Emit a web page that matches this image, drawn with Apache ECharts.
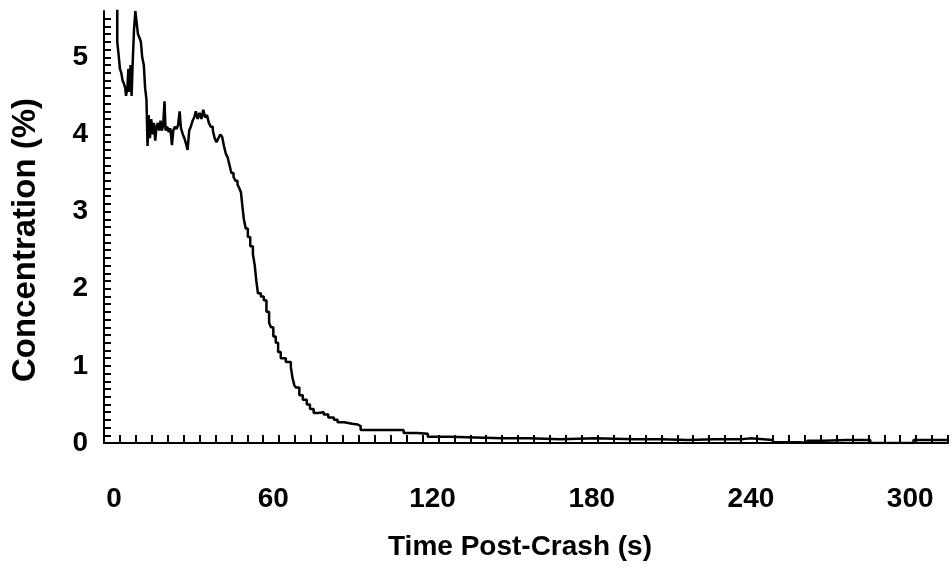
<!DOCTYPE html>
<html>
<head>
<meta charset="utf-8">
<script src="https://cdn.jsdelivr.net/npm/echarts@6/dist/echarts.min.js"></script>
<style>
html,body{margin:0;padding:0;background:#fff;}
#chart{width:952px;height:568px;}
</style>
</head>
<body>
<div id="chart"></div>
<script>
// Data (time in s, concentration in %)
const times = [
  0, 1, 2, 3, 4, 5, 5.6, 6, 6.5, 7, 7.5, 8, 8.3, 8.8, 9.2, 9.6, 10, 10.4, 10.8, 11.3,
  11.8, 12.3, 12.8, 13.4, 13.9, 14.4, 15, 15.5, 16, 16.4, 16.8, 17.3, 17.8, 18.3, 18.8, 19.3,
  19.8, 20.3, 20.8, 21.3, 21.8, 22.3, 22.8, 23.2, 23.8, 24.4, 25, 25.6, 26.1, 26.7, 27.3, 27.9,
  28.5, 29, 29.7, 30.3, 30.9, 31.5, 32.1, 32.7, 33.4, 34, 34.6, 35.3, 36, 36.7, 37.4, 38.1,
  38.8, 39.5, 40.2, 41, 41.7, 42.4, 43.1, 43.8, 44.5, 45.2, 45.9, 46.6, 47.3, 48, 48.8, 49.5,
  50.3, 51, 51.6, 52.2, 52.7, 53.4, 54.2, 55.1, 56.1, 56.8, 57.4, 58, 59.1, 60.2, 61.2, 62.2,
  62.9, 63.8, 64.7, 65.6, 66.6, 68.5, 70.4, 71, 71.7, 72.3, 73.6, 74.9, 76.4, 77.6, 79, 80.5,
  82.8, 84.5, 86.6, 88, 90.5, 93.5, 95.6, 96.7, 105, 112.9, 118, 122, 130, 140, 150, 160,
  172, 185, 200, 210, 220, 230, 240, 243.5, 252, 262, 265, 271, 280, 288.7, 303.7, 305, 306.4, 317.6
];
const concentration = [
  5.9, 5.9, 5.9, 5.9, 5.9, 5.2, 5.0, 4.85, 4.8, 4.7, 4.66, 4.6, 4.5, 4.6, 4.85, 4.55, 4.9, 4.5, 4.92, 5.35,
  5.6, 5.45, 5.3, 5.25, 5.2, 5.0, 4.9, 4.6, 4.45, 3.85, 4.25, 3.95, 4.2, 4.0, 4.15, 3.92,
  4.1, 4.15, 4.05, 4.18, 4.05, 4.12, 4.43, 4.05, 4.1, 4.03, 4.08, 3.86, 4.05, 4.1, 4.07, 4.12,
  4.3, 4.08, 4.0, 3.95, 3.88, 3.8, 4.05, 4.1, 4.18, 4.22, 4.3, 4.2, 4.28, 4.2, 4.32, 4.22,
  4.25, 4.15, 4.1, 4.05, 3.95, 3.9, 3.95, 4.0, 3.97, 3.85, 3.75, 3.7, 3.6, 3.5, 3.45, 3.4,
  3.35, 3.3, 3.25, 3.05, 2.9, 2.78, 2.67, 2.55, 2.45, 2.3, 2.1, 1.94, 1.9, 1.85, 1.7, 1.56,
  1.5, 1.38, 1.3, 1.18, 1.1, 1.05, 0.98, 0.85, 0.75, 0.72, 0.62, 0.56, 0.5, 0.44, 0.39, 0.4,
  0.37, 0.33, 0.3, 0.27, 0.25, 0.24, 0.22, 0.17, 0.17, 0.13, 0.12, 0.08, 0.07, 0.06, 0.06, 0.05,
  0.06, 0.05, 0.05, 0.04, 0.05, 0.05, 0.06, 0.04, 0.01, 0.0, 0.03, 0.04, 0.04, 0.0, 0.0, 0.04, 0.04, 0.04
];
const xTickLabels = [0, 60, 120, 180, 240, 300];
const yTickLabels = [0, 1, 2, 3, 4, 5];
const xTitle = 'Time Post-Crash (s)';
const yTitle = 'Concentration (%)';

const seriesData = times.map((t, i) => [t, concentration[i]]);
const FONT = '"Liberation Sans", Arial, sans-serif';

function isLabel(list, v) {
  for (let i = 0; i < list.length; i++) {
    if (Math.abs(list[i] - v) < 1e-6) return String(list[i]);
  }
  return '';
}

const chart = echarts.init(document.getElementById('chart'), null, {renderer: 'canvas'});
chart.setOption({
  animation: false,
  backgroundColor: '#ffffff',
  grid: {left: 104, right: 4, top: 11, bottom: 125, containLabel: false},
  xAxis: {
    type: 'value',
    min: 0, max: 318, interval: 6,
    name: xTitle, nameLocation: 'middle', nameGap: 90,
    nameTextStyle: {fontFamily: FONT, fontWeight: 'bold', fontSize: 28, color: '#000', padding: [0, 12, 0, 0]},
    axisLine: {show: true, onZero: false, lineStyle: {color: '#000', width: 2}},
    axisTick: {show: true, inside: true, length: 8, lineStyle: {color: '#000', width: 2}},
    splitLine: {show: false},
    axisLabel: {
      show: true, margin: 42, color: '#000', fontFamily: FONT, fontWeight: 'bold', fontSize: 28,
      padding: [0, 0, 0, 20],
      showMaxLabel: true,
      formatter: v => isLabel(xTickLabels, v)
    }
  },
  yAxis: {
    type: 'value',
    min: 0, max: 5.6, interval: 0.1,
    name: yTitle, nameLocation: 'middle', nameGap: 62, nameRotate: 90,
    nameTextStyle: {fontFamily: FONT, fontWeight: 'bold', fontSize: 33, color: '#000', padding: [0, 26, 0, 0]},
    axisLine: {show: true, onZero: false, lineStyle: {color: '#000', width: 2}},
    axisTick: {show: true, inside: true, interval: 0, length: 7, lineStyle: {color: '#000', width: 2}},
    splitLine: {show: false},
    axisLabel: {
      show: true, margin: 16, color: '#000', fontFamily: FONT, fontWeight: 'bold', fontSize: 28,
      showMaxLabel: false, hideOverlap: false,
      formatter: v => isLabel(yTickLabels, v)
    }
  },
  series: [{
    type: 'line',
    data: seriesData,
    step: 'end',
    showSymbol: false,
    symbol: 'none',
    clip: true,
    lineStyle: {color: '#000', width: 2.5}
  }]
});
</script>
</body>
</html>
